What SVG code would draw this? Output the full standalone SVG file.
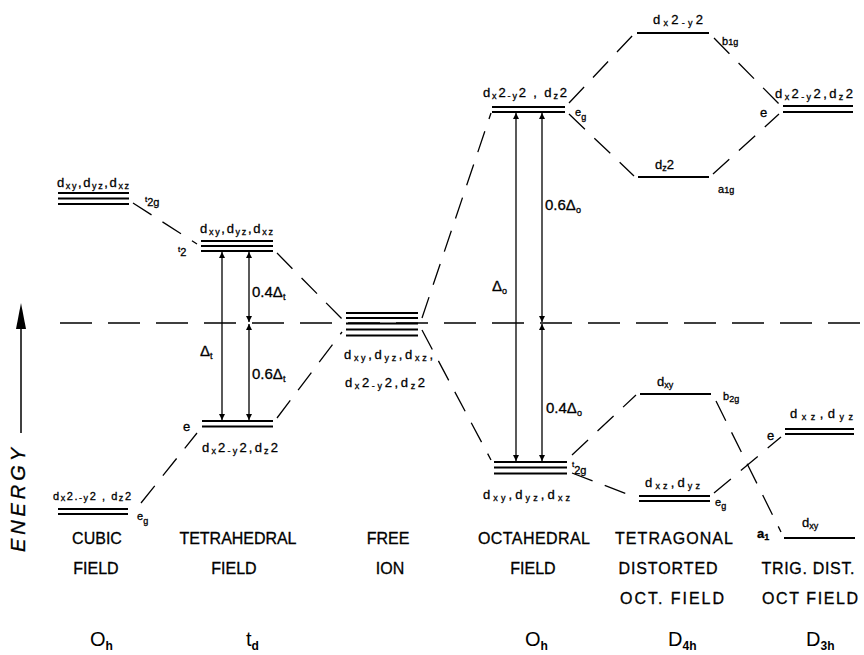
<svg xmlns="http://www.w3.org/2000/svg" width="864" height="655" viewBox="0 0 864 655">
<defs>
<style>
text{font-family:"Liberation Sans",Arial,sans-serif;fill:#000;stroke:#000;stroke-width:0.3}
.lv{stroke:#000;stroke-width:2.2;fill:none}
.dash{stroke:#000;stroke-width:1.3;fill:none;stroke-dasharray:22 13}
.ar{stroke:#000;stroke-width:1.3;fill:none}
.lab{font-size:13px}
.sm{font-size:11px}
.s{font-size:9px}
.cap{font-size:16px;text-anchor:middle}
.sym{font-size:20px;stroke-width:0}
.symsub{font-size:12px;font-weight:bold}
</style>
<marker id="ah" viewBox="0 0 10 10" refX="10" refY="5" markerWidth="6" markerHeight="7" orient="auto-start-reverse" markerUnits="userSpaceOnUse">
<path d="M0,0 L10,5 L0,10 z" fill="#000"/>
</marker>
</defs>
<rect width="864" height="655" fill="#fff"/>

<g id="baseline">
<line x1="60" y1="323" x2="862" y2="323" stroke="#000" stroke-width="1.3" stroke-dasharray="32 16"/>
</g>

<g id="energy-axis">
<line x1="21" y1="433" x2="21" y2="325" stroke="#000" stroke-width="1.5"/>
<path d="M21,303 L26,329 L16,329 z" fill="#000"/>
<text transform="translate(25,500) rotate(-90)" font-size="20" font-style="italic" text-anchor="middle" textLength="104" lengthAdjust="spacing">ENERGY</text>
</g>

<g id="connectors">
<line class="dash" x1="133" y1="203" x2="197" y2="244"/>
<line class="dash" x1="141" y1="503" x2="197" y2="433"/>
<line class="dash" x1="277" y1="253" x2="342" y2="319"/>
<line class="dash" x1="277" y1="418" x2="342" y2="332"/>
<line class="dash" x1="422" y1="318" x2="491" y2="113"/>
<line class="dash" x1="422" y1="330" x2="491" y2="460"/>
<line class="dash" x1="569" y1="103" x2="634" y2="34"/>
<line class="dash" x1="569" y1="114" x2="634" y2="176"/>
<line class="dash" x1="572" y1="455" x2="636" y2="395"/>
<line class="dash" x1="572" y1="473" x2="635" y2="497"/>
<line class="dash" x1="714" y1="38" x2="779" y2="104"/>
<line class="dash" x1="713" y1="174" x2="779" y2="114"/>
<line class="dash" x1="716" y1="401" x2="781" y2="532"/>
<line class="dash" x1="714" y1="493" x2="781" y2="437"/>
</g>

<g id="cubic">
<line class="lv" x1="58" y1="193" x2="129" y2="193"/>
<line class="lv" x1="58" y1="198.5" x2="129" y2="198.5"/>
<line class="lv" x1="58" y1="204" x2="129" y2="204"/>
<text class="lab" x="57" y="187" textLength="72" lengthAdjust="spacing">d<tspan class="s" dy="2">xy</tspan><tspan dy="-2">,d</tspan><tspan class="s" dy="2">yz</tspan><tspan dy="-2">,d</tspan><tspan class="s" dy="2">xz</tspan></text>
<text class="sm" x="145" y="206"><tspan font-size="8" dy="-4">t</tspan><tspan dy="4">2g</tspan></text>
<line class="lv" x1="58" y1="509" x2="128" y2="509"/>
<line class="lv" x1="58" y1="514" x2="128" y2="514"/>
<text class="sm" x="53" y="500" textLength="78" lengthAdjust="spacing">d<tspan class="s" dy="1">x</tspan><tspan dy="-1">2.</tspan><tspan class="s" dy="1">-y</tspan><tspan dy="-1">2 , d</tspan><tspan class="s" dy="1">z</tspan><tspan dy="-1">2</tspan></text>
<text class="sm" x="137" y="520">e<tspan class="s" dy="4">g</tspan></text>
<text class="cap" x="97" y="544">CUBIC</text>
<text class="cap" x="96" y="574">FIELD</text>
<text class="sym" x="90" y="646">O<tspan class="symsub" dy="4">h</tspan></text>
</g>

<g id="tetrahedral">
<line class="lv" x1="201" y1="241" x2="273" y2="241"/>
<line class="lv" x1="201" y1="246" x2="273" y2="246"/>
<line class="lv" x1="201" y1="251" x2="273" y2="251"/>
<text class="lab" x="200" y="233" textLength="73" lengthAdjust="spacing">d<tspan class="s" dy="2">xy</tspan><tspan dy="-2">,d</tspan><tspan class="s" dy="2">yz</tspan><tspan dy="-2">,d</tspan><tspan class="s" dy="2">xz</tspan></text>
<text class="sm" x="178" y="256"><tspan font-size="8" dy="-4">t</tspan><tspan dy="4">2</tspan></text>
<line class="lv" x1="202" y1="421" x2="273" y2="421"/>
<line class="lv" x1="202" y1="426.5" x2="273" y2="426.5"/>
<text class="lab" x="183" y="431">e</text>
<text class="lab" x="202" y="452" textLength="76" lengthAdjust="spacing">d<tspan class="s" dy="2">x</tspan><tspan dy="-2">2</tspan><tspan class="s" dy="2">-y</tspan><tspan dy="-2">2,d</tspan><tspan class="s" dy="2">z</tspan><tspan dy="-2">2</tspan></text>
<line class="ar" x1="222" y1="252" x2="222" y2="420" marker-start="url(#ah)" marker-end="url(#ah)"/>
<line class="ar" x1="249" y1="252" x2="249" y2="322" marker-start="url(#ah)" marker-end="url(#ah)"/>
<line class="ar" x1="249" y1="324" x2="249" y2="420" marker-start="url(#ah)" marker-end="url(#ah)"/>
<text font-size="15" x="252" y="297">0.4Δ<tspan class="s" dy="3">t</tspan></text>
<text font-size="15" x="200" y="356">Δ<tspan class="s" dy="3">t</tspan></text>
<text font-size="15" x="252" y="379">0.6Δ<tspan class="s" dy="3">t</tspan></text>
<text class="cap" x="238" y="544" textLength="117" lengthAdjust="spacing">TETRAHEDRAL</text>
<text class="cap" x="234" y="574">FIELD</text>
<text class="sym" x="246" y="646">t<tspan class="symsub" dy="4">d</tspan></text>
</g>

<g id="free-ion">
<line class="lv" x1="346" y1="313" x2="418" y2="313"/>
<line class="lv" x1="346" y1="318" x2="418" y2="318"/>
<line class="lv" x1="346" y1="323.5" x2="418" y2="323.5"/>
<line class="lv" x1="346" y1="329.5" x2="418" y2="329.5"/>
<line class="lv" x1="346" y1="335.5" x2="418" y2="335.5"/>
<text class="lab" x="344" y="359" textLength="89" lengthAdjust="spacing">d<tspan class="s" dy="2">xy</tspan><tspan dy="-2">,d</tspan><tspan class="s" dy="2">yz</tspan><tspan dy="-2">,d</tspan><tspan class="s" dy="2">xz</tspan><tspan dy="-2">,</tspan></text>
<text class="lab" x="345" y="387" textLength="80" lengthAdjust="spacing">d<tspan class="s" dy="2">x</tspan><tspan dy="-2">2</tspan><tspan class="s" dy="2">-y</tspan><tspan dy="-2">2,d</tspan><tspan class="s" dy="2">z</tspan><tspan dy="-2">2</tspan></text>
<text class="cap" x="388" y="544">FREE</text>
<text class="cap" x="390" y="574">ION</text>
</g>

<g id="octahedral">
<line class="lv" x1="492" y1="107" x2="565" y2="107"/>
<line class="lv" x1="492" y1="112" x2="565" y2="112"/>
<text class="lab" x="483" y="97" textLength="84" lengthAdjust="spacing">d<tspan class="s" dy="2">x</tspan><tspan dy="-2">2</tspan><tspan class="s" dy="2">-y</tspan><tspan dy="-2">2 , d</tspan><tspan class="s" dy="2">z</tspan><tspan dy="-2">2</tspan></text>
<text class="sm" x="575" y="116">e<tspan class="s" dy="4">g</tspan></text>
<line class="lv" x1="494" y1="462" x2="567" y2="462"/>
<line class="lv" x1="494" y1="467.5" x2="567" y2="467.5"/>
<line class="lv" x1="494" y1="473.5" x2="567" y2="473.5"/>
<text class="lab" x="483" y="499" textLength="87" lengthAdjust="spacing">d<tspan class="s" dy="2">xy</tspan><tspan dy="-2">,d</tspan><tspan class="s" dy="2">yz</tspan><tspan dy="-2">,d</tspan><tspan class="s" dy="2">xz</tspan></text>
<text class="sm" x="572" y="474"><tspan font-size="8" dy="-7">t</tspan><tspan dy="7">2g</tspan></text>
<line class="ar" x1="516" y1="113" x2="516" y2="461" marker-start="url(#ah)" marker-end="url(#ah)"/>
<line class="ar" x1="542" y1="113" x2="542" y2="322" marker-start="url(#ah)" marker-end="url(#ah)"/>
<line class="ar" x1="542" y1="324" x2="542" y2="461" marker-start="url(#ah)" marker-end="url(#ah)"/>
<text font-size="15" x="492" y="291">Δ<tspan class="s" dy="3">o</tspan></text>
<text font-size="15" x="545" y="210">0.6Δ<tspan class="s" dy="3">o</tspan></text>
<text font-size="15" x="546" y="413">0.4Δ<tspan class="s" dy="3">o</tspan></text>
<text class="cap" x="534" y="544" textLength="112" lengthAdjust="spacing">OCTAHEDRAL</text>
<text class="cap" x="533" y="574">FIELD</text>
<text class="sym" x="525" y="646">O<tspan class="symsub" dy="4">h</tspan></text>
</g>

<g id="tetragonal">
<line class="lv" x1="637" y1="33" x2="709" y2="33"/>
<text class="lab" x="653" y="24" textLength="50" lengthAdjust="spacing">d<tspan class="s" dy="2">x</tspan><tspan dy="-2">2</tspan><tspan class="s" dy="2">-y</tspan><tspan dy="-2">2</tspan></text>
<text class="sm" x="722" y="45">b<tspan class="s" dy="0">1g</tspan></text>
<line class="lv" x1="638" y1="177" x2="709" y2="177"/>
<text class="lab" x="655" y="169">d<tspan class="s" dy="2">z</tspan><tspan dy="-2">2</tspan></text>
<text class="sm" x="718" y="193">a<tspan class="s">1g</tspan></text>
<line class="lv" x1="640" y1="394" x2="711" y2="394"/>
<text class="lab" x="657" y="386">d<tspan class="s" dy="2">xy</tspan></text>
<text class="sm" x="723" y="400">b<tspan class="s" dy="2">2g</tspan></text>
<line class="lv" x1="639" y1="496" x2="710" y2="496"/>
<line class="lv" x1="639" y1="501" x2="710" y2="501"/>
<text class="lab" x="645" y="487" textLength="55" lengthAdjust="spacing">d<tspan class="s" dy="2">xz</tspan><tspan dy="-2">,d</tspan><tspan class="s" dy="2">yz</tspan></text>
<text class="sm" x="715" y="506">e<tspan class="s" dy="3">g</tspan></text>
<text class="cap" x="674" y="544" textLength="118" lengthAdjust="spacing">TETRAGONAL</text>
<text class="cap" x="668" y="574" textLength="99" lengthAdjust="spacing">DISTORTED</text>
<text class="cap" x="672" y="604" textLength="104" lengthAdjust="spacing">OCT.  FIELD</text>
<text class="sym" x="668" y="646">D<tspan class="symsub" dy="4">4h</tspan></text>
</g>

<g id="trigonal">
<line class="lv" x1="783" y1="106" x2="853" y2="106"/>
<line class="lv" x1="783" y1="112" x2="853" y2="112"/>
<text class="lab" x="775" y="98" textLength="78" lengthAdjust="spacing">d<tspan class="s" dy="2">x</tspan><tspan dy="-2">2</tspan><tspan class="s" dy="2">-y</tspan><tspan dy="-2">2,d</tspan><tspan class="s" dy="2">z</tspan><tspan dy="-2">2</tspan></text>
<text class="lab" x="760" y="117">e</text>
<line class="lv" x1="785" y1="429" x2="854" y2="429"/>
<line class="lv" x1="785" y1="434" x2="854" y2="434"/>
<text class="lab" x="790" y="418" textLength="63" lengthAdjust="spacing">d<tspan class="s" dy="2">xz</tspan><tspan dy="-2">,d</tspan><tspan class="s" dy="2">yz</tspan></text>
<text class="lab" x="767" y="440">e</text>
<line class="lv" x1="784" y1="538" x2="855" y2="538"/>
<text class="lab" x="802" y="527">d<tspan class="s" dy="2">xy</tspan></text>
<text class="lab" x="757" y="538" font-weight="bold">a<tspan class="s" dy="2">1</tspan></text>
<text class="cap" x="808" y="574" textLength="93" lengthAdjust="spacing">TRIG.  DIST.</text>
<text class="cap" x="810" y="604" textLength="96" lengthAdjust="spacing">OCT  FIELD</text>
<text class="sym" x="806" y="646">D<tspan class="symsub" dy="4">3h</tspan></text>
</g>
</svg>
